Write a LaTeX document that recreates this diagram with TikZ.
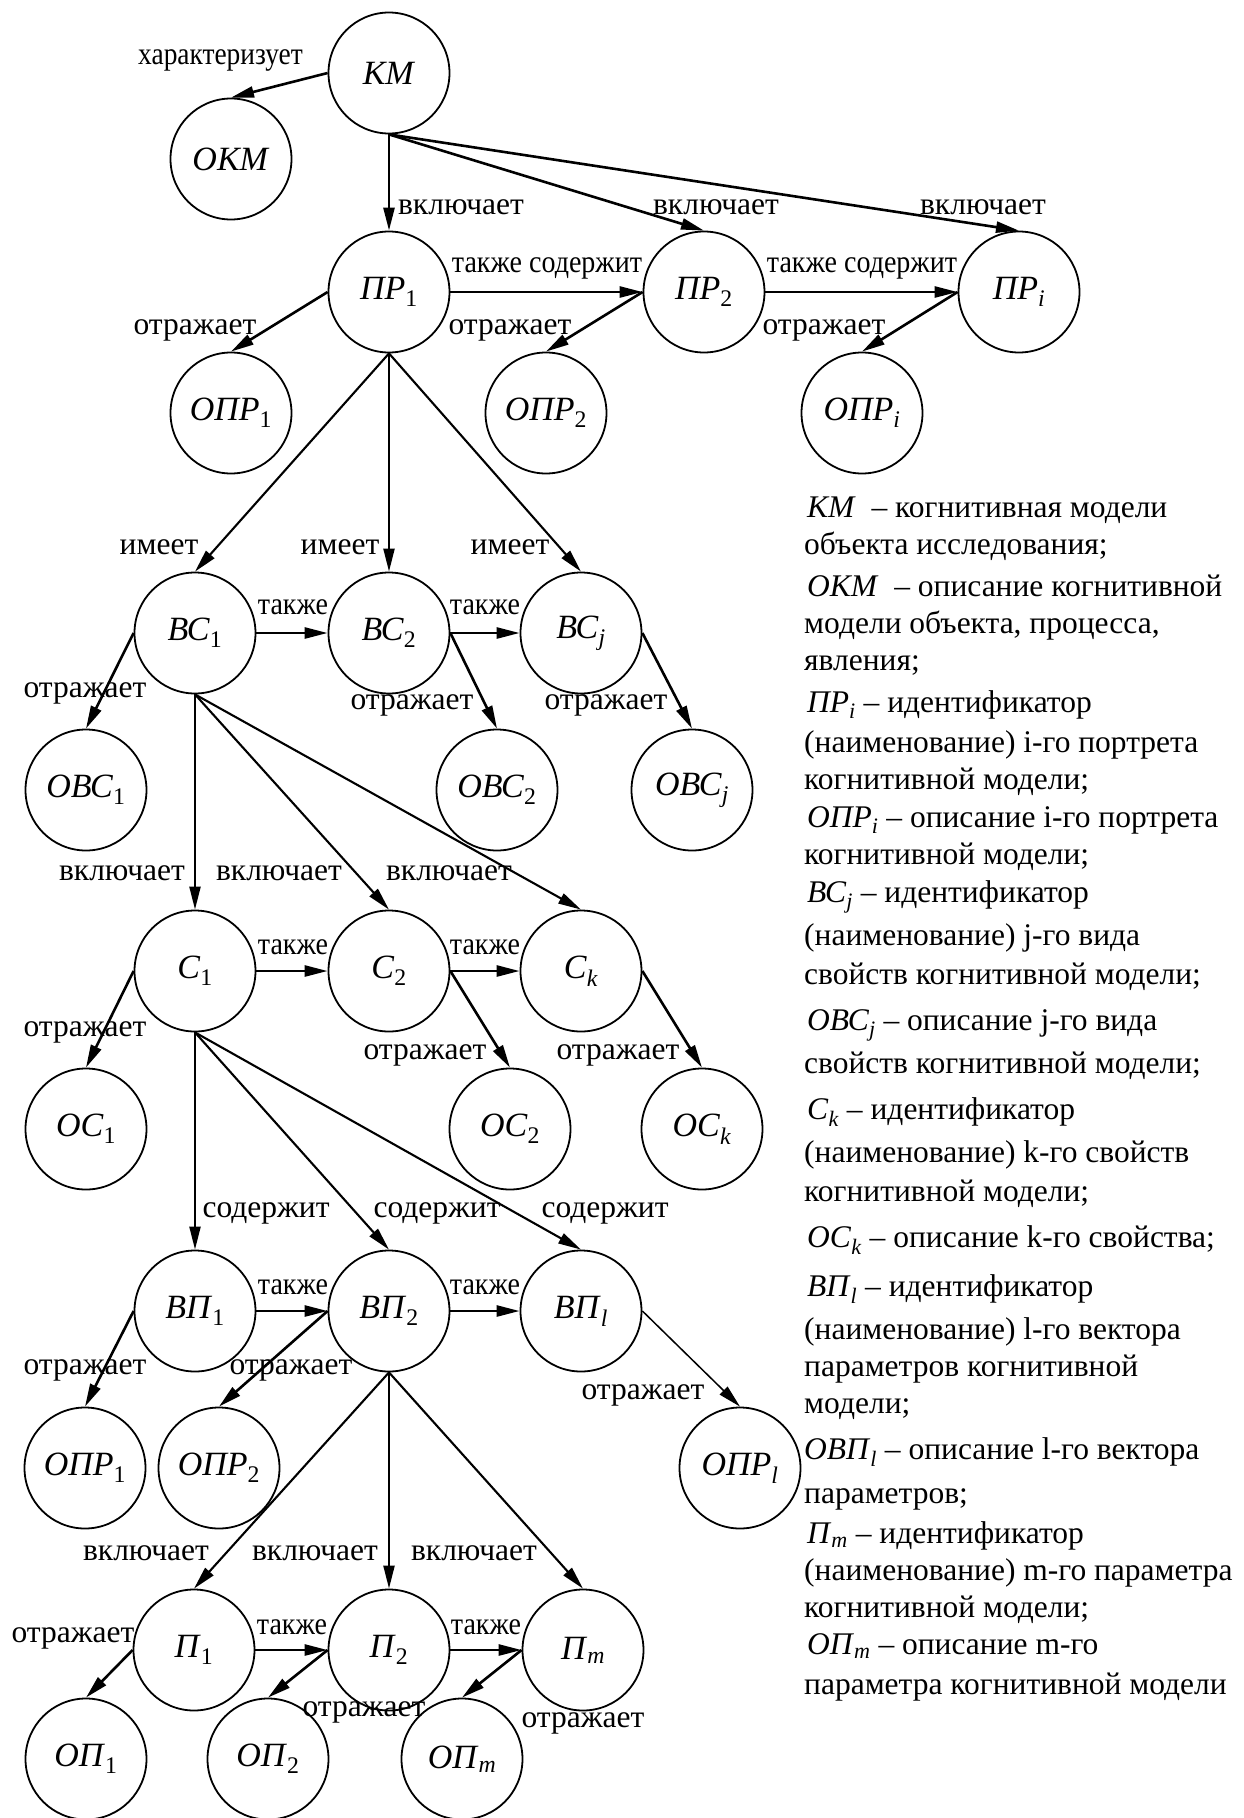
\documentclass[tikz,border=0pt]{standalone}
\usepackage{fontspec}
\usepackage{amsmath}
\usepackage{graphicx}
\setmainfont{Liberation Serif}
\usetikzlibrary{arrows.meta}

\newcommand{\idx}[2]{\textit{#1}\ensuremath{_{\text{#2}}}}
\newcommand{\tight}[1]{\scalebox{0.89}[1]{#1}}
\newcommand{\legendfont}{\fontsize{31.5}{37}\selectfont\lineskiplimit-100pt\relax}

\begin{document}
\begin{tikzpicture}[x=1pt, y=-1pt,
    concept/.style={circle, draw, line width=1.8pt, minimum size=121pt, inner sep=0pt, font=\fontsize{34}{40}\selectfont},
    rel/.style={-{Triangle[length=23pt,width=11pt]}, line width=2.6pt},
    fan/.style={rel, line width=2.1pt},
    lbl/.style={inner sep=0pt, font=\fontsize{31.5}{36}\selectfont}
]
    \useasboundingbox (0,0) rectangle (1244,1818);

    % Cognitive model and its portraits
    \node[concept] (km) at (389,73) {\textit{КМ}};
    \node[concept] (okm) at (231,159) {\textit{ОКМ}};
    \node[concept] (pr1) at (389,292) {\idx{ПР}{1}};
    \node[concept] (pr2) at (704,292) {\idx{ПР}{2}};
    \node[concept] (pri) at (1019,292) {\idx{ПР}{\textit{i}}};
    \node[concept] (opr1) at (231,413) {\idx{ОПР}{1}};
    \node[concept] (opr2) at (546,413) {\idx{ОПР}{2}};
    \node[concept] (opri) at (862,413) {\idx{ОПР}{\textit{i}}};

    % Kinds of properties
    \node[concept] (bc1) at (195,633) {\idx{ВС}{1}};
    \node[concept] (bc2) at (389,633) {\idx{ВС}{2}};
    \node[concept] (bcj) at (581,633) {\idx{ВС}{\textit{j}}};
    \node[concept] (obc1) at (86,790) {\idx{ОВС}{1}};
    \node[concept] (obc2) at (497,790) {\idx{ОВС}{2}};
    \node[concept] (obcj) at (692,790) {\idx{ОВС}{\textit{j}}};

    % Properties
    \node[concept] (c1) at (195,971) {\idx{С}{1}};
    \node[concept] (c2) at (389,971) {\idx{С}{2}};
    \node[concept] (ck) at (581,971) {\idx{С}{\textit{k}}};
    \node[concept] (oc1) at (86,1129) {\idx{ОС}{1}};
    \node[concept] (oc2) at (510,1129) {\idx{ОС}{2}};
    \node[concept] (ock) at (702,1129) {\idx{ОС}{\textit{k}}};

    % Parameter vectors
    \node[concept] (vp1) at (195,1311) {\idx{ВП}{1}};
    \node[concept] (vp2) at (389,1311) {\idx{ВП}{2}};
    \node[concept] (vpl) at (581,1311) {\idx{ВП}{\textit{l}}};
    \node[concept] (oprb1) at (85,1468) {\idx{ОПР}{1}};
    \node[concept] (oprb2) at (219,1468) {\idx{ОПР}{2}};
    \node[concept] (oprl) at (740,1468) {\idx{ОПР}{\textit{l}}};

    % Parameters
    \node[concept] (p1) at (194,1650) {\idx{П}{1}};
    \node[concept] (p2) at (389,1650) {\idx{П}{2}};
    \node[concept] (pm) at (583,1650) {\idx{П}{\textit{m}}};
    \node[concept] (op1) at (86,1759) {\idx{ОП}{1}};
    \node[concept] (op2) at (268,1759) {\idx{ОП}{2}};
    \node[concept] (opm) at (462,1759) {\idx{ОП}{\textit{m}}};

    % Connectors
    \draw[rel] (km.west) -- (okm.north);
    \foreach \t in {pr1,pr2,pri} \draw[rel] (km.south) -- (\t.north);
    \draw[rel] (pr1.east) -- (pr2.west);
    \draw[rel] (pr2.east) -- (pri.west);
    \draw[rel] (pr1.west) -- (opr1.north);
    \draw[rel] (pr2.west) -- (opr2.north);
    \draw[rel] (pri.west) -- (opri.north);

    \foreach \t in {bc1,bc2,bcj} \draw[fan] (pr1.south) -- (\t.north);
    \draw[rel] (bc1.east) -- (bc2.west);
    \draw[rel] (bc2.east) -- (bcj.west);
    \draw[rel] (bc1.west) -- (obc1.north);
    \draw[rel] (bc2.east) -- (obc2.north);
    \draw[rel] (bcj.east) -- (obcj.north);

    \foreach \t in {c1,c2,ck} \draw[fan] (bc1.south) -- (\t.north);
    \draw[rel] (c1.east) -- (c2.west);
    \draw[rel] (c2.east) -- (ck.west);
    \draw[rel] (c1.west) -- (oc1.north);
    \draw[rel] (c2.east) -- (oc2.north);
    \draw[rel] (ck.east) -- (ock.north);

    \foreach \t in {vp1,vp2,vpl} \draw[fan] (c1.south) -- (\t.north);
    \draw[rel] (vp1.east) -- (vp2.west);
    \draw[rel] (vp2.east) -- (vpl.west);
    \draw[rel] (vp1.west) -- (oprb1.north);
    \draw[rel] (vp2.west) -- (oprb2.north);
    \draw[fan, line width=1.5pt] (vpl.east) -- (oprl.north);

    \foreach \t in {p1,p2,pm} \draw[fan] (vp2.south) -- (\t.north);
    \draw[rel] (p1.east) -- (p2.west);
    \draw[rel] (p2.east) -- (pm.west);
    \draw[rel] (p1.west) -- (op1.north);
    \draw[rel] (p2.west) -- (op2.north);
    \draw[rel] (pm.west) -- (opm.north);

    % Connector labels
    \node[lbl, anchor=east] (tchar) at (303,60) {\scalebox{0.87}[1]{характеризует}};
    \node[lbl] (tkm1) at (461,207) {включает};
    \node[lbl] (tkm2) at (716,207) {включает};
    \node[lbl] (tkm3) at (983,207) {включает};
    \node[lbl] (tpr12) at (547,268) {\tight{также содержит}};
    \node[lbl] (tpr2i) at (862,268) {\tight{также содержит}};
    \node[lbl] (tpr1o) at (195,330) {отражает};
    \node[lbl] (tpr2o) at (510,330) {отражает};
    \node[lbl] (tprio) at (824,330) {отражает};

    \node[lbl] (tbc1) at (159,547) {имеет};
    \node[lbl] (tbc2) at (340,547) {имеет};
    \node[lbl] (tbc3) at (510,547) {имеет};
    \node[lbl] (tbc12) at (293,607) {\tight{также}};
    \node[lbl] (tbc2j) at (485,607) {\tight{также}};
    \node[lbl] (tbc1o) at (85,693) {отражает};
    \node[lbl] (tbc2o) at (412,705) {отражает};
    \node[lbl] (tbcjo) at (606,705) {отражает};

    \node[lbl] (tc1) at (122,873) {включает};
    \node[lbl] (tc2) at (279,873) {включает};
    \node[lbl] (tc3) at (449,873) {включает};
    \node[lbl] (tc12) at (293,947) {\tight{также}};
    \node[lbl] (tc2k) at (485,947) {\tight{также}};
    \node[lbl] (tc1o) at (85,1032) {отражает};
    \node[lbl] (tc2o) at (425,1055) {отражает};
    \node[lbl] (tcko) at (618,1055) {отражает};

    \node[lbl] (tvp1) at (266,1213) {содержит};
    \node[lbl] (tvp2) at (437,1213) {содержит};
    \node[lbl] (tvp3) at (605,1213) {содержит};
    \node[lbl] (tvp12) at (293,1287) {\tight{также}};
    \node[lbl] (tvp2l) at (485,1287) {\tight{также}};
    \node[lbl] (tvp1o) at (85,1370) {отражает};
    \node[lbl] (tvp2o) at (291,1370) {отражает};
    \node[lbl] (tvplo) at (643,1395) {отражает};

    \node[lbl] (tp1) at (146,1553) {включает};
    \node[lbl] (tp2) at (315,1553) {включает};
    \node[lbl] (tp3) at (474,1553) {включает};
    \node[lbl] (tp12) at (292,1627) {\tight{также}};
    \node[lbl] (tp2m) at (486,1627) {\tight{также}};
    \node[lbl] (tp1o) at (73,1638) {отражает};
    \node[lbl] (tp2o) at (364,1712) {отражает};
    \node[lbl] (tpmo) at (583,1723) {отражает};

    % Legend
    \node[anchor=north west, align=left, inner sep=0pt, font=\legendfont] (legend) at (804,497) {%
        \hspace{3pt}\textit{КМ}\ \ – когнитивная модели\\
        объекта исследования;\\[5pt]
        \hspace{3pt}\textit{ОКМ}\ \ – описание когнитивной\\
        модели объекта, процесса,\\
        явления;\\[5pt]
        \hspace{3pt}\idx{ПР}{\textit{i}}\ – идентификатор\\[3pt]
        (наименование) i-го портрета\\
        когнитивной модели;\\[1pt]
        \hspace{3pt}\idx{ОПР}{\textit{i}} – описание i-го портрета\\
        когнитивной модели;\\[1pt]
        \hspace{3pt}\idx{ВС}{\textit{j}}\ – идентификатор\\[6pt]
        (наименование) j-го вида\\[2pt]
        свойств когнитивной модели;\\[9pt]
        \hspace{3pt}\idx{ОВС}{\textit{j}}\ – описание j-го вида\\[6pt]
        свойств когнитивной модели;\\[9pt]
        \hspace{3pt}\idx{С}{\textit{k}}\ – идентификатор\\[6pt]
        (наименование) k-го свойств\\[2pt]
        когнитивной модели;\\[9pt]
        \hspace{3pt}\idx{ОС}{\textit{k}}\ – описание k-го свойства;\\[12pt]
        \hspace{3pt}\idx{ВП}{\textit{l}} – идентификатор\\[6pt]
        (наименование) l-го вектора\\
        параметров когнитивной\\
        модели;\\[9pt]
        \idx{ОВП}{\textit{l}} – описание l-го вектора\\[7pt]
        параметров;\\[3pt]
        \hspace{3pt}\idx{П}{\textit{m}} – идентификатор\\
        (наименование) m-го параметра\\
        когнитивной модели;\\
        \hspace{3pt}\idx{ОП}{\textit{m}} – описание m-го\\[3pt]
        параметра когнитивной модели};
\end{tikzpicture}
\end{document}
